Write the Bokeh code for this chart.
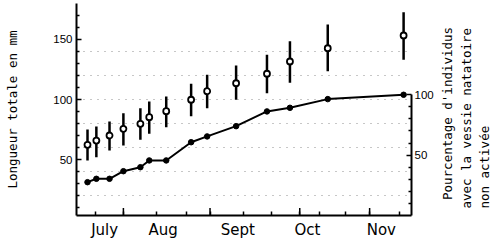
import math
from bokeh.plotting import figure
from bokeh.models import Range1d, LinearAxis, FixedTicker, Label
from bokeh.layouts import row
from bokeh.embed import file_html
from bokeh.resources import INLINE

# ---- data (x in days from the start of the plotted period) ----
x_days = [4.6, 8.3, 13.8, 19.6, 26.7, 30.4, 37.5, 47.9, 54.6, 66.7, 79.6, 89.2, 105.0, 136.7]
length_mean = [62.3, 65.9, 70.1, 75.6, 79.8, 85.3, 90.3, 99.8, 106.9, 113.5, 121.4, 131.6, 142.6, 153.2]
length_hi = [75.1, 77.6, 81.7, 88.6, 92.8, 98.3, 102.5, 113.1, 120.5, 128.3, 137.2, 148.5, 162.3, 172.6]
length_lo = [49.3, 52.0, 57.6, 61.8, 66.5, 71.5, 77.0, 86.1, 92.8, 99.8, 105.2, 113.9, 123.5, 133.0]
pct_not_activated = [27.6, 30.4, 30.4, 36.7, 40.0, 45.6, 45.6, 60.7, 65.5, 74.0, 86.2, 89.2, 96.4, 100.0]

month_names = ["July", "Aug", "Sept", "Oct", "Nov"]
month_label_days = [11.75, 36.2, 67.4, 96.5, 127.4]
tick_days = [7.9, 19.6, 33.3, 45.8, 55.8, 69.6, 81.7, 93.3, 101.7, 112.5, 122.5, 135.0]
long_tick_days = [19.6, 55.8, 93.3, 122.5]

left_major = [50, 100, 150]
left_minor = [10, 20, 30, 40, 60, 70, 80, 90, 110, 120, 130, 140, 160, 170]
right_major = [50, 100]
right_minor = [10, 20, 30, 40, 60, 70, 80, 90]
grid_levels = [20, 40, 60, 80, 100, 120, 140]

left_title = "Longueur totale en mm"
right_title = ["Pourcentage d'individus", "avec la vessie natatoire", "non activée"]

# ---- main figure ----
X0, X1 = 0, 140
Y0, Y1 = 3.6, 179.8
P0, P1 = 0, 175.6
MAIN_W = 436
H = 246

p = figure(width=MAIN_W, height=H, output_backend="svg", toolbar_location=None,
           x_range=Range1d(X0, X1), y_range=Range1d(Y0, Y1),
           min_border_left=76, min_border_right=MAIN_W - 412, min_border_top=3, min_border_bottom=31,
           x_axis_location=None, y_axis_location=None)
p.extra_y_ranges = {"pct": Range1d(P0, P1)}
p.outline_line_color = None
p.background_fill_color = "white"
p.border_fill_color = "white"

p.xgrid.visible = False
p.ygrid.ticker = FixedTicker(ticks=grid_levels)
p.ygrid.grid_line_color = "#333333"
p.ygrid.grid_line_alpha = 0.55
p.ygrid.grid_line_dash = "1 6"
p.ygrid.grid_line_width = 1

TITLE_FONT = "DejaVu Sans Mono"
TITLE_SIZE = "12.5px"

xax = LinearAxis(ticker=FixedTicker(ticks=month_label_days, minor_ticks=tick_days))
xax.major_label_overrides = {d: n for d, n in zip(month_label_days, month_names)}
xax.axis_line_width = 2
xax.major_tick_in = 0
xax.major_tick_out = 0
xax.minor_tick_in = 4
xax.minor_tick_out = 0
xax.minor_tick_line_width = 1.5
xax.major_label_standoff = 5
xax.major_label_text_font = "DejaVu Sans"
xax.major_label_text_font_size = "15px"
xax.major_label_text_color = "black"
p.add_layout(xax, "below")

yax = LinearAxis(ticker=FixedTicker(ticks=left_major, minor_ticks=left_minor))
yax.axis_line_width = 2
yax.major_tick_in = 5
yax.major_tick_out = 0
yax.major_tick_line_width = 1.5
yax.minor_tick_in = 3
yax.minor_tick_out = 0
yax.minor_tick_line_width = 1.5
yax.major_label_standoff = 4
yax.major_label_text_font = "Liberation Sans"
yax.major_label_text_font_size = "11.5px"
yax.major_label_text_color = "black"
yax.axis_label = left_title
yax.axis_label_text_font = TITLE_FONT
yax.axis_label_text_font_size = TITLE_SIZE
yax.axis_label_text_font_style = "normal"
yax.axis_label_text_color = "black"
yax.axis_label_standoff = 30
p.add_layout(yax, "left")

rax = LinearAxis(y_range_name="pct", ticker=FixedTicker(ticks=right_major, minor_ticks=right_minor),
                 bounds=(0, 100))
rax.axis_line_width = 2
rax.major_tick_in = 5
rax.major_tick_out = 0
rax.major_tick_line_width = 1.5
rax.minor_tick_in = 3
rax.minor_tick_out = 0
rax.minor_tick_line_width = 1.5
rax.major_label_standoff = 3
rax.major_label_text_font = "Liberation Sans"
rax.major_label_text_font_size = "11.5px"
rax.major_label_text_color = "black"
p.add_layout(rax, "right")

tick_len = 7.5 / 1.203
p.segment(x0=long_tick_days, y0=[Y0] * len(long_tick_days),
          x1=long_tick_days, y1=[Y0 + tick_len] * len(long_tick_days),
          line_color="black", line_width=1.5)

p.segment(x0=x_days, y0=length_lo, x1=x_days, y1=length_hi, line_color="black", line_width=2.5)
p.scatter(x=x_days, y=length_mean, marker="circle", size=6, fill_color="white",
          line_color="black", line_width=1.8)

p.line(x=x_days, y=pct_not_activated, y_range_name="pct", line_color="black", line_width=2)
p.scatter(x=x_days, y=pct_not_activated, y_range_name="pct", marker="circle", size=5.5,
          fill_color="black", line_color="black")

# ---- side panel carrying the right-hand title ----
SIDE_W = 500 - MAIN_W
t = figure(width=SIDE_W, height=H, output_backend="svg", toolbar_location=None,
           x_range=Range1d(0, SIDE_W), y_range=Range1d(H, 0),
           min_border=0, x_axis_location=None, y_axis_location=None)
t.outline_line_color = None
t.xgrid.visible = False
t.ygrid.visible = False
t.background_fill_color = "white"
t.border_fill_color = "white"
for txt, xc, yb in zip(right_title, [447, 465.5, 484], [228, 238, 238]):
    t.add_layout(Label(x=xc - MAIN_W, y=yb, text=txt, angle=math.pi / 2,
                       text_font=TITLE_FONT, text_font_size=TITLE_SIZE,
                       text_align="left", text_baseline="middle", text_color="black"))

layout = row(p, t, spacing=0)
open("out.html", "w").write(file_html(layout, INLINE))
